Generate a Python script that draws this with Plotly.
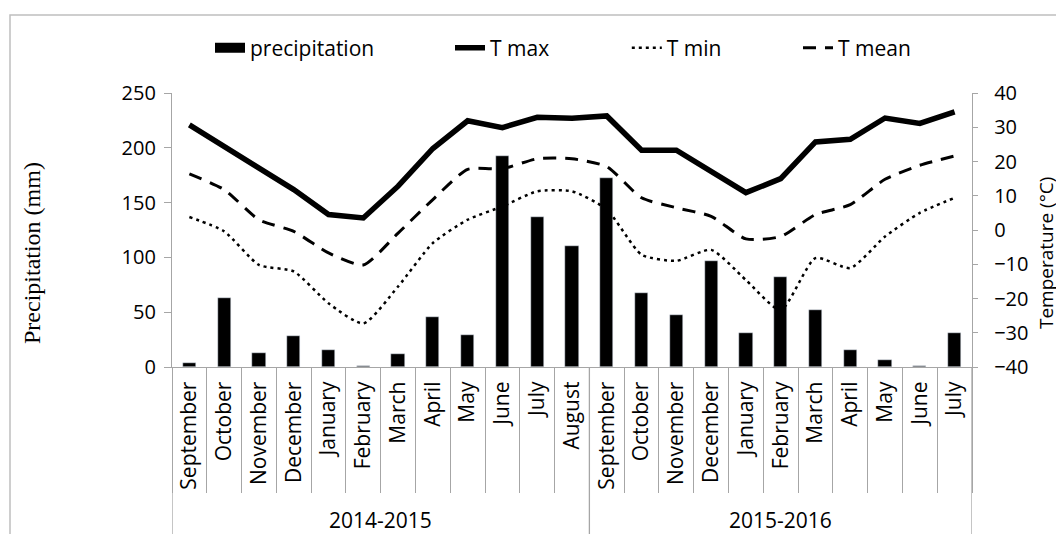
import plotly.graph_objects as go

months = ["September", "October", "November", "December", "January", "February", "March",
          "April", "May", "June", "July", "August",
          "September", "October", "November", "December", "January", "February", "March",
          "April", "May", "June", "July"]
seasons = ["2014-2015", "2015-2016"]
season_sizes = [12, 11]

precip = [4.0, 63.3, 12.8, 28.4, 15.9, 1.2, 11.9, 45.8, 29.3, 192.8, 136.9, 110.0,
          172.4, 67.2, 47.1, 96.3, 31.2, 82.5, 52.0, 15.9, 6.1, 1.2, 31.2]
t_max = [30.7, 24.5, 17.9, 11.8, 4.5, 3.5, 12.8, 23.8, 31.9, 29.9, 32.9, 32.6,
         33.3, 23.3, 23.3, 17.2, 10.9, 15.0, 25.7, 26.5, 32.7, 31.1, 34.5]
t_min = [3.8, -0.4, -10.2, -12.1, -21.4, -27.3, -16.5, -3.8, 3.0, 6.9, 11.3, 11.3,
         6.0, -7.2, -9.0, -5.8, -14.6, -23.4, -8.2, -11.1, -1.9, 5.0, 9.4]
t_mean = [16.4, 11.8, 3.0, -0.4, -6.7, -10.2, -0.9, 8.9, 17.7, 17.9, 20.8, 20.8,
          18.5, 9.4, 6.5, 4.0, -2.6, -1.9, 4.5, 7.4, 14.8, 18.9, 21.6]

n = len(months)
idx = list(range(n))
GRAY = "#a6a6a6"
FONT = "Open Sans"

fig = go.Figure()
fig.add_trace(go.Bar(x=idx, y=precip, name="precipitation", marker_color="black",
                     width=0.38, showlegend=False))
# legend key for precipitation (thick bar-like key)
fig.add_trace(go.Scatter(x=[None], y=[None], mode="lines", name="precipitation",
                         line=dict(color="black", width=11), legend="legend"))
fig.add_trace(go.Scatter(x=idx, y=t_max, name="T max", mode="lines", yaxis="y2",
                         line=dict(color="black", width=5.5), legend="legend2"))
fig.add_trace(go.Scatter(x=idx, y=t_min, name="T min", mode="lines", yaxis="y2",
                         line=dict(color="black", width=2.5, dash="3px,4px", shape="spline",
                                   smoothing=0.6), legend="legend3"))
fig.add_trace(go.Scatter(x=idx, y=t_mean, name="T mean", mode="lines", yaxis="y2",
                         line=dict(color="black", width=3, dash="13px,9px", shape="spline",
                                   smoothing=0.6), legend="legend4"))
# invisible trace on overlay x axis for category boundary ticks
fig.add_trace(go.Scatter(x=[None], y=[None], xaxis="x2", showlegend=False))

boundaries = [i - 0.5 for i in range(n + 1)]
group_edges = [-0.5]
for s in season_sizes:
    group_edges.append(group_edges[-1] + s)
group_centers = [(group_edges[i] + group_edges[i + 1]) / 2 for i in range(len(seasons))]

shapes = []
for e in group_edges:
    shapes.append(dict(type="line", xref="x", yref="paper", x0=e, x1=e, y0=0, y1=-0.7,
                       line=dict(color=GRAY, width=1.3)))
# outer chart frame
shapes.append(dict(type="rect", xref="paper", yref="paper", x0=-0.2025, x1=1.14,
                   y0=-0.7, y1=1.2847, line=dict(color="#bfbfbf", width=1.5)))

annotations = [dict(text=s, x=c, xref="x", y=-0.557, yref="paper", showarrow=False,
                    font=dict(family=FONT, size=21, color="black"), yanchor="middle")
               for s, c in zip(seasons, group_centers)]
annotations.append(dict(text="Precipitation (mm)", textangle=-90, x=-0.175, xref="paper",
                        y=0.416, yref="paper", showarrow=False, xanchor="center",
                        yanchor="middle",
                        font=dict(family="Liberation Serif", size=24, color="black")))
annotations.append(dict(text="Temperature (°C)", textangle=-90, x=1.0925, xref="paper",
                        y=0.416, yref="paper", showarrow=False, xanchor="center",
                        yanchor="middle",
                        font=dict(family=FONT, size=19, color="black")))

leg_common = dict(orientation="h", xanchor="left", y=1.164, yanchor="middle",
                  font=dict(family=FONT, size=21, color="black"),
                  bgcolor="rgba(0,0,0,0)")

fig.update_layout(
    width=1056, height=526,
    margin=dict(l=164, r=92, t=85, b=167, autoexpand=False),
    plot_bgcolor="white", paper_bgcolor="white",
    font=dict(family=FONT, size=20, color="black"),
    bargap=0,
    showlegend=True,
    legend=dict(x=0.0475, **leg_common),
    legend2=dict(x=0.3475, **leg_common),
    legend3=dict(x=0.5685, **leg_common),
    legend4=dict(x=0.7825, **leg_common),
    xaxis=dict(range=[-0.5, n - 0.5], tickvals=idx, ticktext=months, tickangle=-90,
               ticks="", showline=True, linecolor=GRAY, linewidth=1.3, showgrid=False,
               zeroline=False, ticklabelstandoff=5,
               tickfont=dict(family=FONT, size=21, color="black")),
    xaxis2=dict(range=[-0.5, n - 0.5], overlaying="x", anchor="y", side="bottom",
                tickvals=boundaries, ticks="outside", ticklen=125, tickcolor=GRAY,
                tickwidth=1.3, showticklabels=False, showgrid=False, zeroline=False,
                showline=False),
    yaxis=dict(range=[0, 250], dtick=50, ticks="outside", ticklen=7, tickcolor=GRAY,
               tickwidth=1.3, showline=True, linecolor=GRAY, linewidth=1.3,
               showgrid=False, zeroline=False, ticklabelstandoff=4,
               tickfont=dict(family=FONT, size=20, color="black")),
    yaxis2=dict(range=[-40, 40], dtick=10, overlaying="y", side="right", ticks="outside",
                ticklen=5, tickcolor=GRAY, tickwidth=1.3, showline=True, linecolor=GRAY,
                linewidth=1.3, showgrid=False, zeroline=False, ticklabelstandoff=12,
                tickfont=dict(family=FONT, size=20, color="black")),
    shapes=shapes,
    annotations=annotations,
)

fig.write_html("out.html")
